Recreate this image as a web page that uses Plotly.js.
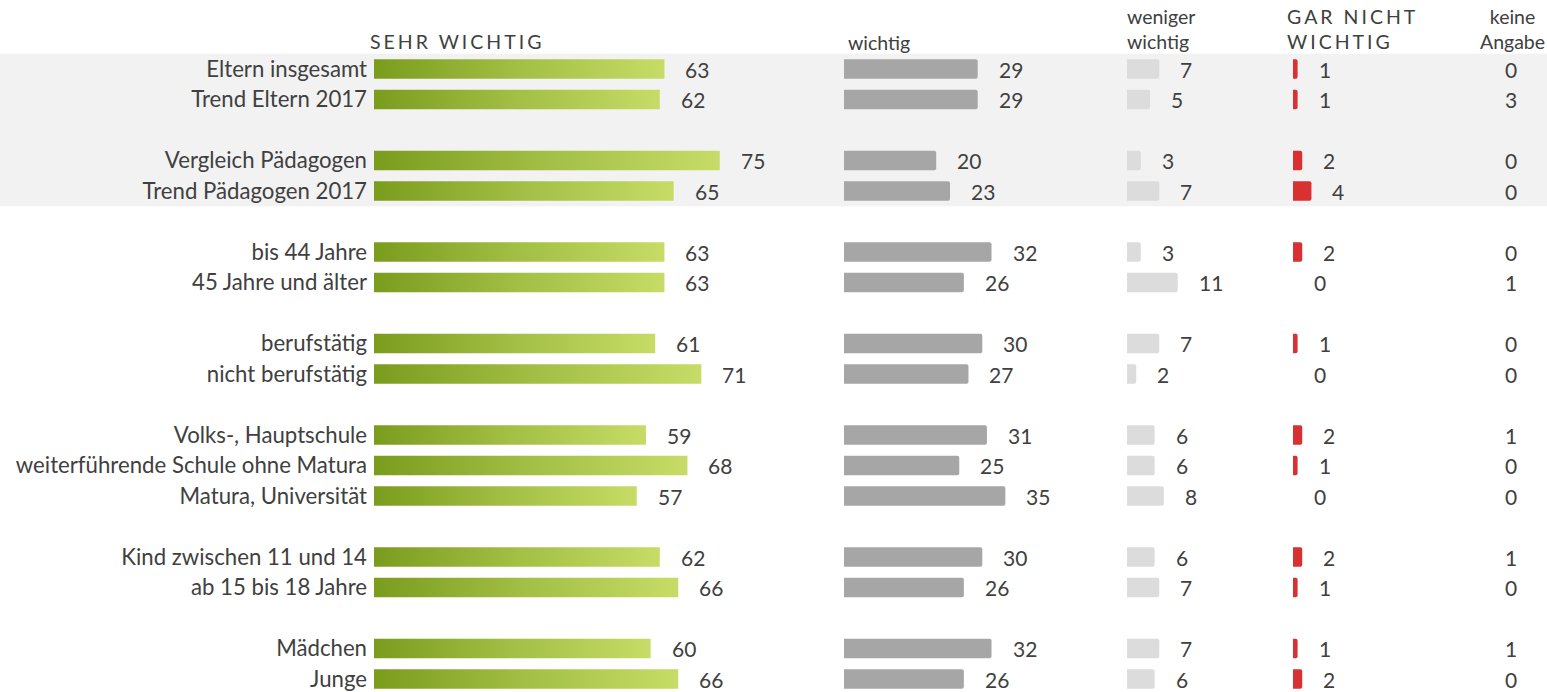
<!DOCTYPE html>
<html>
<head>
<meta charset="utf-8">
<script src="https://cdn.plot.ly/plotly-3.0.1.min.js"></script>
<style>
html,body{margin:0;padding:0;background:#fff;}
#chart{width:1547px;height:692px;}
.annotation[data-index="0"] text, .annotation[data-index="3"] text { letter-spacing: 3px; }
</style>
</head>
<body>
<div id="chart"></div>
<script>
// ---- data ----
const labels = ["Eltern insgesamt","Trend Eltern 2017","Vergleich Pädagogen","Trend Pädagogen 2017",
  "bis 44 Jahre","45 Jahre und älter","berufstätig","nicht berufstätig",
  "Volks-, Hauptschule","weiterführende Schule ohne Matura","Matura, Universität",
  "Kind zwischen 11 und 14","ab 15 bis 18 Jahre","Mädchen","Junge"];
const groupSizes = [2,2,2,2,3,2,2];
const sehrWichtig    = [63,62,75,65,63,63,61,71,59,68,57,62,66,60,66];
const wichtig        = [29,29,20,23,32,26,30,27,31,25,35,30,26,32,26];
const wenigerWichtig = [7,5,3,7,3,11,7,2,6,6,8,6,7,7,6];
const garNicht       = [1,1,2,4,2,0,1,0,2,1,0,2,1,1,2];
const keineAngabe    = [0,3,0,0,0,1,0,0,1,0,0,1,0,1,0];
const headers = ["SEHR WICHTIG","wichtig","weniger<br>wichtig","GAR NICHT<br>WICHTIG","keine<br>Angabe"];

// ---- row slots (groups separated by an empty slot) ----
const slots = [];
let s = 0;
groupSizes.forEach(g => { for (let i = 0; i < g; i++) slots.push(s++); s++; });

const W = 1547, H = 692;
const TXT = '#404040';
const FONT = 'Lato, "Open Sans", sans-serif';
const BW = 0.64;

const traces = [];
// green gradient bars
sehrWichtig.forEach((v, i) => {
  const y = slots[i];
  traces.push({
    type: 'scatter', mode: 'lines', xaxis: 'x', yaxis: 'y',
    x: [0, v, v, 0, 0], y: [y - BW/2, y - BW/2, y + BW/2, y + BW/2, y - BW/2],
    fill: 'toself', line: {width: 0, color: 'rgba(0,0,0,0)'},
    fillcolor: '#a2bd3e',
    fillgradient: {type: 'horizontal', colorscale: [[0, '#7a9c1d'], [0.5, '#a3bf45'], [1, '#c6dc66']]},
    hoverinfo: 'skip', showlegend: false
  });
});
function barTrace(vals, xa, color) {
  return {type: 'bar', orientation: 'h', x: vals, y: slots, xaxis: xa, yaxis: 'y',
    width: BW, marker: {color: color, cornerradius: 2, line: {width: 0}},
    hoverinfo: 'skip', showlegend: false};
}
traces.push(barTrace(wichtig, 'x2', '#a6a6a6'));
traces.push(barTrace(wenigerWichtig, 'x3', '#dcdcdc'));
traces.push(barTrace(garNicht, 'x4', '#d93131'));

const annotations = [];
const hdrFont = {family: FONT, size: 19.5, color: TXT};
function hdr(text, xpx, ypx, xanchor, align) {
  annotations.push({text: text, xref: 'paper', yref: 'paper', x: xpx/W, y: 1 - ypx/H,
    xanchor: xanchor, yanchor: 'middle', align: align, showarrow: false, font: hdrFont});
}
hdr(headers[0], 368, 41, 'left', 'left');
hdr(headers[1], 846, 42, 'left', 'left');
hdr(headers[2], 1125, 29, 'left', 'left');
hdr(headers[3], 1285, 29, 'left', 'left');
hdr(headers[4], 1512, 29, 'center', 'center');

const valFont = {family: FONT, size: 21, color: TXT};
function valueLabels(vals, xa) {
  vals.forEach((v, i) => annotations.push({text: String(v), xref: xa, yref: 'y', x: v, y: slots[i],
    xanchor: 'left', yanchor: 'middle', xshift: 19, showarrow: false, font: valFont}));
}
valueLabels(sehrWichtig, 'x');
valueLabels(wichtig, 'x2');
valueLabels(wenigerWichtig, 'x3');
valueLabels(garNicht, 'x4');
keineAngabe.forEach((v, i) => annotations.push({text: String(v), xref: 'paper', yref: 'y', x: 1511/W, y: slots[i],
  xanchor: 'center', yanchor: 'middle', showarrow: false, font: valFont}));

const PX = 4.61; // pixels per percentage point
function xax(left, span) {
  return {domain: [left/W, (left + span*PX)/W], range: [0, span], visible: false, fixedrange: true, anchor: 'y'};
}
const pxPerSlot = 30.5, firstSlotPx = 69;
const yTop = -firstSlotPx / pxPerSlot;
const yBot = yTop + H / pxPerSlot;

const layout = {
  width: W, height: H,
  margin: {l: 0, r: 0, t: 0, b: 0, pad: 0},
  paper_bgcolor: '#ffffff', plot_bgcolor: 'rgba(0,0,0,0)',
  showlegend: false,
  xaxis: xax(374, 100),
  xaxis2: xax(844, 100),
  xaxis3: xax(1127, 50),
  xaxis4: xax(1293, 50),
  yaxis: {range: [yBot, yTop], anchor: 'free', position: 374/W, tickmode: 'array', tickvals: slots, ticktext: labels,
    showgrid: false, zeroline: false, showline: false, ticks: '', ticklen: 0, ticklabelstandoff: 7,
    tickfont: {family: FONT, size: 22.2, color: TXT}, fixedrange: true},
  shapes: [{type: 'rect', xref: 'paper', yref: 'y', x0: 0, x1: 1, y0: slots[0] - 0.5, y1: slots[3] + 0.5,
    fillcolor: '#f2f2f2', line: {width: 0}, layer: 'below'}],
  annotations: annotations
};

Plotly.newPlot('chart', traces, layout, {staticPlot: true, displayModeBar: false});
</script>
</body>
</html>
